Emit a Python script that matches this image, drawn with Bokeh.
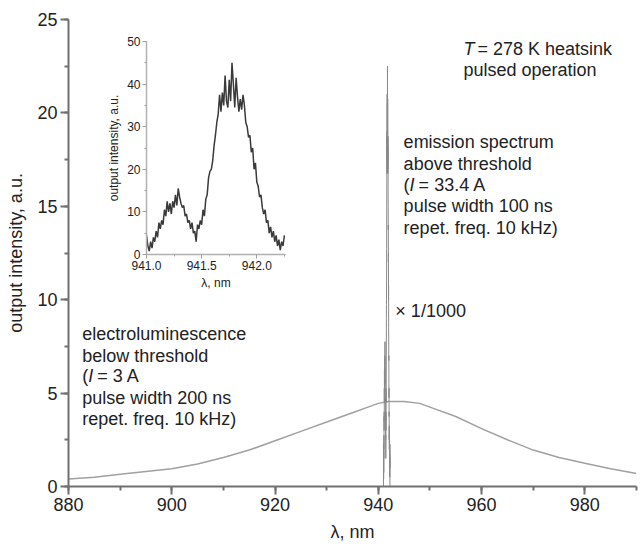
from bokeh.plotting import figure
from bokeh.layouts import column
from bokeh.models import Label, SingleIntervalTicker, NumeralTickFormatter
from bokeh.embed import file_html
from bokeh.resources import INLINE

# ---- data ----
# electroluminescence below threshold (main axes)
el_wavelength = [880, 885, 890, 895, 900, 905, 910, 915, 920, 925, 930, 935, 938,
                 940, 942, 945, 948, 950, 955, 960, 965, 970, 975, 980, 985, 990]
el_intensity = [0.40, 0.50, 0.65, 0.80, 0.95, 1.20, 1.55, 1.95, 2.45, 2.95, 3.45, 3.95, 4.25,
                4.45, 4.55, 4.55, 4.45, 4.25, 3.75, 3.10, 2.50, 1.95, 1.55, 1.25, 0.95, 0.70]

# emission spectrum above threshold (inset, a.u.)
em_wavelength = [941.0000, 941.0125, 941.0250, 941.0375, 941.0500, 941.0625, 941.0750, 941.0875,
                 941.1000, 941.1125, 941.1250, 941.1375, 941.1500, 941.1625, 941.1750, 941.1875,
                 941.2000, 941.2125, 941.2250, 941.2375, 941.2500, 941.2625, 941.2750, 941.2875,
                 941.3000, 941.3125, 941.3250, 941.3375, 941.3500, 941.3625, 941.3750, 941.3875,
                 941.4000, 941.4125, 941.4250, 941.4375, 941.4500, 941.4625, 941.4750, 941.4875,
                 941.5000, 941.5125, 941.5250, 941.5375, 941.5500, 941.5625, 941.5750, 941.5875,
                 941.6000, 941.6125, 941.6250, 941.6375, 941.6500, 941.6625, 941.6750, 941.6875,
                 941.7000, 941.7125, 941.7250, 941.7375, 941.7500, 941.7625, 941.7750, 941.7875,
                 941.8000, 941.8125, 941.8250, 941.8375, 941.8500, 941.8625, 941.8750, 941.8875,
                 941.9000, 941.9125, 941.9250, 941.9375, 941.9500, 941.9625, 941.9750, 941.9875,
                 942.0000, 942.0125, 942.0250, 942.0375, 942.0500, 942.0625, 942.0750, 942.0875,
                 942.1000, 942.1125, 942.1250, 942.1375, 942.1500, 942.1625, 942.1750, 942.1875,
                 942.2000, 942.2125, 942.2250, 942.2375, 942.2500]
em_intensity = [4.5, 2.0, 0.8, 3.0, 1.5, 4.0, 3.0, 5.5,
                4.0, 7.5, 6.0, 8.0, 7.0, 10.5, 9.0, 12.5,
                10.0, 12.0, 9.5, 12.5, 11.0, 14.0, 11.5, 15.5,
                13.5, 12.0, 11.0, 11.5, 9.0, 9.5, 7.5, 8.0,
                6.0, 7.5, 5.0, 5.5, 3.0, 7.0, 6.0, 8.0,
                7.0, 10.5, 9.0, 13.0, 14.0, 18.0, 19.5, 20.0,
                22.0, 25.5, 28.0, 31.0, 33.0, 37.5, 33.5, 38.0,
                35.0, 42.0, 36.0, 34.5, 41.0, 36.0, 45.0, 40.0,
                34.5, 41.5, 37.0, 33.5, 36.5, 34.0, 37.5, 35.0,
                31.0, 30.0, 27.5, 28.0, 24.0, 25.0, 20.0, 21.5,
                17.0, 16.0, 13.5, 14.0, 11.0, 9.5, 10.5, 7.5,
                8.0, 5.0, 6.5, 4.0, 5.5, 3.0, 4.5, 2.0,
                3.5, 1.0, 3.0, 2.0, 4.5]
# scale of the emission spectrum on the main axes
em_main_scale = 0.5

FONT = "Liberation Sans"
TXT = "#222222"

# ---- main figure ----
p = figure(width=643, height=545, x_range=(880, 990), y_range=(0, 25),
           output_backend="svg", toolbar_location=None,
           min_border_left=68, min_border_right=7, min_border_top=19, min_border_bottom=59)
p.outline_line_color = None
p.grid.visible = False
p.background_fill_color = "white"
p.border_fill_color = "white"

p.line(el_wavelength, el_intensity, line_color="#a0a0a0", line_width=1.5)

spike_x = [em_wavelength[0]] + em_wavelength + [em_wavelength[-1]]
spike_y = [0.0] + [v * em_main_scale for v in em_intensity] + [0.0]
p.line(spike_x, spike_y, line_color="#8a8a8a", line_width=1)

p.xaxis.ticker = SingleIntervalTicker(interval=20, num_minor_ticks=2)
p.yaxis.ticker = SingleIntervalTicker(interval=5, num_minor_ticks=2)
p.xaxis.axis_label = "λ, nm"
p.yaxis.axis_label = "output intensity, a.u."
for ax in (p.xaxis, p.yaxis):
    ax.axis_line_color = "#707070"
    ax.axis_line_width = 2
    ax.major_tick_line_color = "#707070"
    ax.major_tick_line_width = 2
    ax.minor_tick_line_color = "#707070"
    ax.minor_tick_line_width = 2
    ax.major_tick_out = 8
    ax.major_tick_in = 0
    ax.minor_tick_out = 4
    ax.minor_tick_in = 0
    ax.major_label_text_font = FONT
    ax.major_label_text_font_size = "18px"
    ax.major_label_text_color = TXT
    ax.axis_label_text_font = FONT
    ax.axis_label_text_font_size = "18px"
    ax.axis_label_text_font_style = "normal"
    ax.axis_label_text_color = TXT
p.xaxis.major_label_standoff = 3
p.xaxis.axis_label_standoff = 8
p.yaxis.major_label_standoff = 3
p.yaxis.axis_label_standoff = 8


def lab(x, y, text, style="normal", xoff=0):
    p.add_layout(Label(x=x, y=y, text=text, x_offset=xoff, text_font=FONT,
                       text_font_size="18px", text_color=TXT, text_font_style=style,
                       text_baseline="middle", text_align="left"))


# T = 278 K heatsink
lab(956.5, 23.40, "T", "italic")
lab(956.5, 23.40, "= 278 K heatsink", xoff=14)
lab(956.5, 22.27, "pulsed operation")

# emission spectrum block
ex = 944.9
lab(ex, 18.43, "emission spectrum")
lab(ex, 17.29, "above threshold")
lab(ex, 16.14, "(")
lab(ex, 16.14, "I", "italic", xoff=6)
lab(ex, 16.14, "= 33.4 A", xoff=15)
lab(ex, 15.00, "pulse width 100 ns")
lab(ex, 13.86, "repet. freq. 10 kHz)")

lab(943.3, 9.42, "× 1/1000")

# electroluminescence block
bx = 882.65
lab(bx, 8.14, "electroluminescence")
lab(bx, 7.01, "below threshold")
lab(bx, 5.89, "(")
lab(bx, 5.89, "I", "italic", xoff=6)
lab(bx, 5.89, "= 3 A", xoff=15)
lab(bx, 4.76, "pulse width 200 ns")
lab(bx, 3.64, "repet. freq. 10 kHz)")

# ---- inset ----
inset = figure(width=214, height=262, x_range=(941.0, 942.26), y_range=(0, 50),
               output_backend="svg", toolbar_location=None,
               min_border_left=39, min_border_right=7, min_border_top=11, min_border_bottom=38,
               margin=(-515, 0, 0, 78))
inset.outline_line_color = None
inset.grid.visible = False
inset.background_fill_alpha = 0
inset.border_fill_alpha = 0
inset.line(em_wavelength, em_intensity, line_color="#3a3a3a", line_width=1.5)
inset.xaxis.ticker = SingleIntervalTicker(interval=0.5, num_minor_ticks=2)
inset.yaxis.ticker = SingleIntervalTicker(interval=10, num_minor_ticks=2)
inset.xaxis.formatter = NumeralTickFormatter(format="0.0")
inset.xaxis.axis_label = "λ, nm"
inset.yaxis.axis_label = "output intensity, a.u."
for ax in (inset.xaxis, inset.yaxis):
    ax.axis_line_color = "#b0b0b0"
    ax.axis_line_width = 1.5
    ax.major_tick_line_color = "#a0a0a0"
    ax.minor_tick_line_color = "#a0a0a0"
    ax.major_tick_out = 4
    ax.major_tick_in = 0
    ax.minor_tick_out = 2
    ax.minor_tick_in = 0
    ax.major_label_text_font = FONT
    ax.major_label_text_font_size = "12px"
    ax.major_label_text_color = TXT
    ax.axis_label_text_font = FONT
    ax.axis_label_text_font_size = "12px"
    ax.axis_label_text_font_style = "normal"
    ax.axis_label_text_color = TXT
    ax.major_label_standoff = 2
    ax.axis_label_standoff = 3

layout = column(p, inset, spacing=0)
open("out.html", "w").write(file_html(layout, INLINE))
